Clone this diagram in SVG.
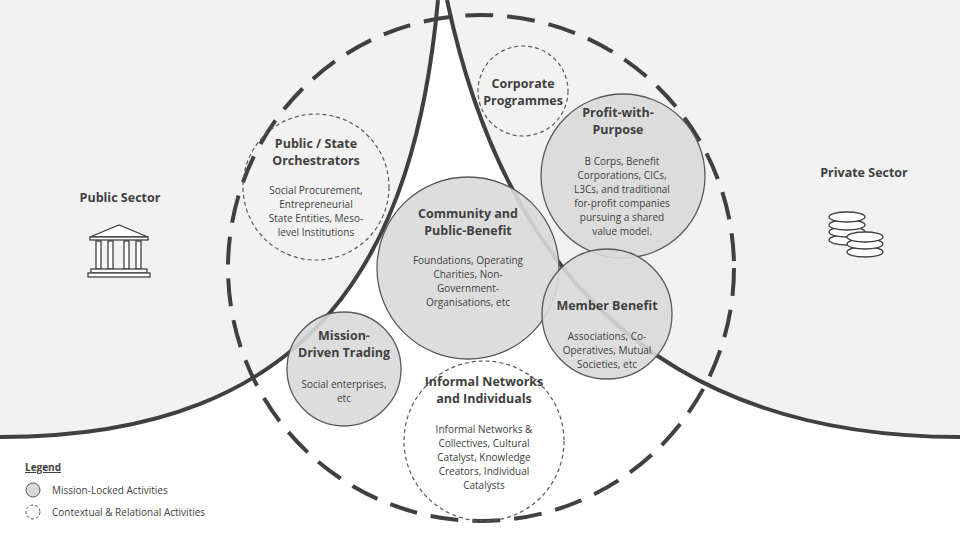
<svg xmlns="http://www.w3.org/2000/svg" width="960" height="540" viewBox="0 0 960 540">
<style>
text{font-family:"Open Sans","Liberation Sans",sans-serif;fill:#404040;text-anchor:middle}
.t{font-size:12.5px;font-weight:bold}
.b{font-size:10px}
.solid{fill:#d9d9d9;fill-opacity:0.9;stroke:#595959;stroke-width:1.3}
.dash{fill:none;stroke:#595959;stroke-width:1.2;stroke-dasharray:4 3}
.ic{fill:#fff;stroke:#404040;stroke-width:1.3}
</style>
<rect width="960" height="540" fill="#fff"/>
<g id="connectors">
<path d="M0 0 H438 C415 250 320 437 0 437 Z" fill="#f2f2f2"/>
<path d="M960 0 H447 C500 250 640 437 960 437 Z" fill="#f2f2f2"/>
<path d="M438 0 C415 250 320 437 0 437" fill="none" stroke="#404040" stroke-width="4"/>
<path d="M447 0 C500 250 640 437 960 437" fill="none" stroke="#404040" stroke-width="4"/>
<circle cx="481" cy="268" r="253" fill="none" stroke="#404040" stroke-width="4" stroke-dasharray="28 14"/>
</g>
<g id="public-sector">
<text x="120" y="202" class="t">Public Sector</text>
<g class="ic">
<path d="M90 237 L119 225 L148 237 Z"/>
<rect x="90" y="237" width="58" height="3"/>
<rect x="96" y="241" width="5" height="28"/><rect x="108" y="241" width="5" height="28"/><rect x="124" y="241" width="5" height="28"/><rect x="136" y="241" width="5" height="28"/>
<rect x="91" y="269" width="56" height="4"/><rect x="88" y="273" width="62" height="4"/>
</g>
</g>
<g id="private-sector">
<text x="864" y="177" class="t">Private Sector</text>
<g class="ic">
<ellipse cx="847" cy="240" rx="18" ry="5"/><ellipse cx="847" cy="232" rx="18" ry="5"/><ellipse cx="847" cy="225" rx="18" ry="5"/>
<ellipse cx="847" cy="217" rx="18" ry="5"/>
<ellipse cx="865" cy="252" rx="18" ry="5"/><ellipse cx="865" cy="244" rx="18" ry="5"/>
<ellipse cx="865" cy="237" rx="18" ry="5"/>
</g>
</g>
<g id="corporate">
<circle cx="523" cy="91" r="45" class="dash"/>
<text x="523" y="88" class="t">Corporate</text><text x="523" y="105" class="t">Programmes</text>
</g>
<g id="orchestrators">
<circle cx="316" cy="187" r="73" class="dash"/>
<text x="316" y="148" class="t">Public / State</text><text x="316" y="165" class="t">Orchestrators</text>
<text x="316" y="194" class="b">Social Procurement,</text><text x="316" y="208" class="b">Entrepreneurial</text><text x="316" y="222" class="b">State Entities, Meso-</text><text x="316" y="236" class="b">level Institutions</text>
</g>
<g id="informal">
<circle cx="484" cy="441" r="80" class="dash"/>
<text x="484" y="386" class="t">Informal Networks</text><text x="484" y="403" class="t">and Individuals</text>
<text x="484" y="433" class="b">Informal Networks &amp;</text><text x="484" y="447" class="b">Collectives, Cultural</text><text x="484" y="461" class="b">Catalyst, Knowledge</text><text x="484" y="475" class="b">Creators, Individual</text><text x="484" y="489" class="b">Catalysts</text>
</g>
<g id="community">
<circle cx="468" cy="268" r="91" class="solid"/>
<text x="468" y="218" class="t">Community and</text><text x="468" y="235" class="t">Public-Benefit</text>
<text x="468" y="264" class="b">Foundations, Operating</text><text x="468" y="278" class="b">Charities, Non-</text><text x="468" y="292" class="b">Government-</text><text x="468" y="306" class="b">Organisations, etc</text>
</g>
<g id="profit">
<circle cx="623" cy="176" r="82" class="solid"/>
<text x="618" y="117" class="t">Profit-with-</text><text x="618" y="134" class="t">Purpose</text>
<text x="622" y="165" class="b">B Corps, Benefit</text><text x="622" y="179" class="b">Corporations, CICs,</text><text x="622" y="193" class="b">L3Cs, and traditional</text><text x="622" y="207" class="b">for-profit companies</text><text x="622" y="221" class="b">pursuing a shared</text><text x="622" y="235" class="b">value model.</text>
</g>
<g id="member">
<circle cx="607" cy="314" r="65" class="solid"/>
<text x="607" y="310" class="t">Member Benefit</text>
<text x="607" y="340" class="b">Associations, Co-</text><text x="607" y="354" class="b">Operatives, Mutual</text><text x="607" y="368" class="b">Societies, etc</text>
</g>
<g id="mission">
<circle cx="344" cy="369" r="57" class="solid"/>
<text x="344" y="340" class="t">Mission-</text><text x="344" y="357" class="t">Driven Trading</text>
<text x="344" y="388" class="b">Social enterprises,</text><text x="344" y="402" class="b">etc</text>
</g>
<g id="legend">
<text x="25" y="471" style="text-anchor:start;font-size:10px;font-weight:bold;text-decoration:underline">Legend</text>
<circle cx="33" cy="490" r="7" fill="#d9d9d9" stroke="#595959"/>
<text x="52" y="494" class="b" style="text-anchor:start">Mission-Locked Activities</text>
<circle cx="33" cy="512" r="7" fill="none" stroke="#595959" stroke-dasharray="3 2"/>
<text x="52" y="516" class="b" style="text-anchor:start">Contextual &amp; Relational Activities</text>
</g>
</svg>
